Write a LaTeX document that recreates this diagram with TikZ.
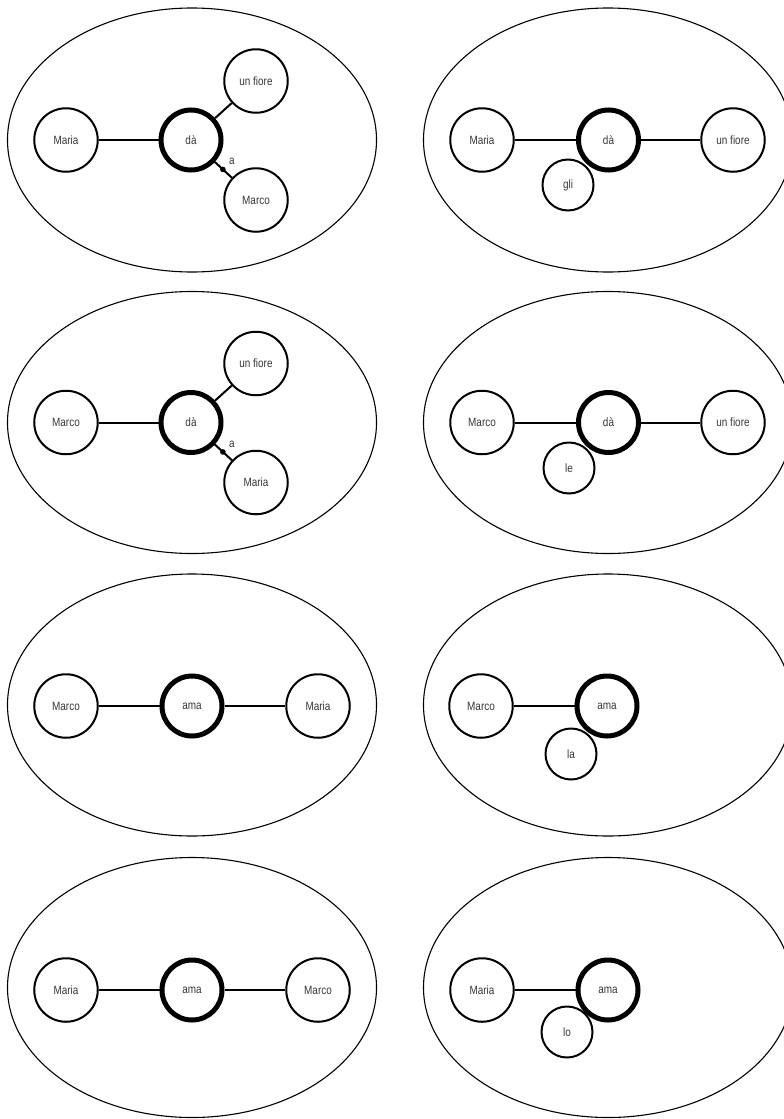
\documentclass[tikz,border=0pt]{standalone}
\usepackage{fontspec}
\setmainfont[FakeStretch=0.83]{Liberation Sans}
\begin{document}
\begin{tikzpicture}[x=1pt,y=-1pt,
  word/.style={circle, draw, line width=2pt, minimum size=63.5pt, inner sep=0pt, fill=white,
               font=\fontsize{12}{14}\selectfont, text=black!78},
  verb/.style={word, line width=5pt, minimum size=60pt},
  clit/.style={word, minimum size=51pt},
  link/.style={line width=2pt},
  frame/.style={line width=1.1pt},
  lbl/.style={font=\fontsize{12}{14}\selectfont, text=black!78, inner sep=0pt},
  dotmark/.style={fill=black}]
\useasboundingbox (0,0) rectangle (784,1119);

% ---------- frames ----------
\draw[frame] (192,140) ellipse [x radius=184.5pt, y radius=132pt];
\draw[frame] (608,140) ellipse [x radius=184.5pt, y radius=132pt];
\draw[frame] (192,422.5) ellipse [x radius=184.5pt, y radius=131pt];
\draw[frame] (608,422.5) ellipse [x radius=184.5pt, y radius=131pt];
\draw[frame] (192,705) ellipse [x radius=184.5pt, y radius=131pt];
\draw[frame] (608,705) ellipse [x radius=184.5pt, y radius=131pt];
\draw[frame] (192,987.5) ellipse [x radius=184.5pt, y radius=130pt];
\draw[frame] (608,987.5) ellipse [x radius=184.5pt, y radius=130pt];

% ---------- row 1 left ----------
\node[word] (r1lMaria) at (66,140) {Maria};
\node[verb] (r1lda) at (191,140) {dà};
\node[word] (r1lfiore) at (256,81) {un fiore};
\node[word] (r1lMarco) at (256,200) {Marco};
\draw[link] (r1lMaria) -- (r1lda);
\draw[link] (r1lda) -- (r1lfiore);
\draw[link] (r1lda) -- coordinate[pos=0.47] (r1ldot) (r1lMarco);
\fill[dotmark] (r1ldot) circle (2.8pt);
\node[lbl] (r1la) at ([shift={(9,-8)}]r1ldot) {a};

% ---------- row 1 right ----------
\node[clit] (r1rgli) at (568,185) {gli};
\node[word] (r1rMaria) at (482,140) {Maria};
\node[verb] (r1rda) at (608.5,140) {dà};
\node[word] (r1rfiore) at (733,140) {un fiore};
\draw[link] (r1rMaria) -- (r1rda);
\draw[link] (r1rda) -- (r1rfiore);

% ---------- row 2 left ----------
\node[word] (r2lMarco) at (66,422.5) {Marco};
\node[verb] (r2lda) at (191,422.5) {dà};
\node[word] (r2lfiore) at (256,363.5) {un fiore};
\node[word] (r2lMaria) at (256,482.5) {Maria};
\draw[link] (r2lMarco) -- (r2lda);
\draw[link] (r2lda) -- (r2lfiore);
\draw[link] (r2lda) -- coordinate[pos=0.47] (r2ldot) (r2lMaria);
\fill[dotmark] (r2ldot) circle (2.8pt);
\node[lbl] (r2la) at ([shift={(9,-8)}]r2ldot) {a};

% ---------- row 2 right ----------
\node[clit] (r2rle) at (569,468) {le};
\node[word] (r2rMarco) at (482,422.5) {Marco};
\node[verb] (r2rda) at (608.5,422.5) {dà};
\node[word] (r2rfiore) at (733,422.5) {un fiore};
\draw[link] (r2rMarco) -- (r2rda);
\draw[link] (r2rda) -- (r2rfiore);

% ---------- row 3 left ----------
\node[word] (r3lMarco) at (66,706) {Marco};
\node[verb] (r3lama) at (192,706) {ama};
\node[word] (r3lMaria) at (318,706) {Maria};
\draw[link] (r3lMarco) -- (r3lama);
\draw[link] (r3lama) -- (r3lMaria);

% ---------- row 3 right ----------
\node[clit] (r3rla) at (571,754) {la};
\node[word] (r3rMarco) at (481,706) {Marco};
\node[verb] (r3rama) at (607,706) {ama};
\draw[link] (r3rMarco) -- (r3rama);

% ---------- row 4 left ----------
\node[word] (r4lMaria) at (66,990) {Maria};
\node[verb] (r4lama) at (192,990) {ama};
\node[word] (r4lMarco) at (318,990) {Marco};
\draw[link] (r4lMaria) -- (r4lama);
\draw[link] (r4lama) -- (r4lMarco);

% ---------- row 4 right ----------
\node[clit] (r4rlo) at (567,1032) {lo};
\node[word] (r4rMaria) at (482,990) {Maria};
\node[verb] (r4rama) at (608,990) {ama};
\draw[link] (r4rMaria) -- (r4rama);
\end{tikzpicture}
\end{document}
